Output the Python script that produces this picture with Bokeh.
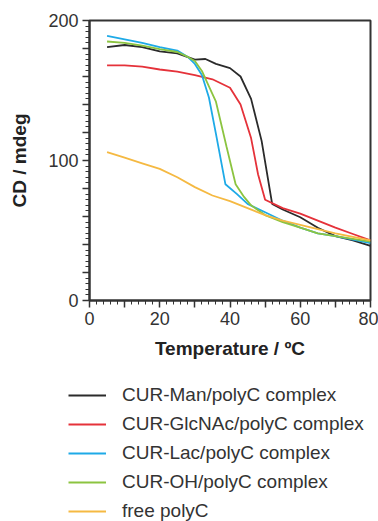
from bokeh.plotting import figure
from bokeh.models import FixedTicker, Legend, LegendItem, Range1d
from bokeh.layouts import column
from bokeh.embed import file_html
from bokeh.resources import INLINE

# ---- data ----
man_x = [5, 10, 15, 20, 25, 30, 33, 36, 40, 43, 46, 49, 52, 55, 60, 65, 70, 75, 80]
man_y = [181, 182.5, 181, 178, 176.5, 172, 172.5, 169, 166, 160, 144, 114, 69, 65, 59.5, 52, 46, 43, 39]

glc_x = [5, 10, 15, 20, 25, 30, 35, 40, 43, 46, 48, 50, 55, 60, 65, 70, 75, 80]
glc_y = [168, 168, 167, 165, 163.5, 161, 158, 152, 140, 116, 90, 72, 66, 62, 57, 52, 47.5, 43]

lac_x = [5, 10, 15, 20, 25, 28, 30, 32, 34, 36, 38.7, 42, 45, 50, 55, 60, 65, 70, 75, 80]
lac_y = [189, 186.5, 184, 181, 178.5, 174, 169, 161, 145, 119, 83, 76, 69, 63, 57, 52, 48, 46, 43.5, 41]

oh_x = [5, 10, 15, 20, 25, 28, 30, 32, 34, 36, 39, 41.6, 44, 46, 50, 55, 60, 65, 70, 75, 80]
oh_y = [185, 184, 182, 179.5, 177.5, 174, 171, 164, 153, 142, 110, 83, 74, 68, 61, 56, 52, 48, 46, 44, 42]

free_x = [5, 10, 15, 20, 25, 30, 35, 40, 45, 50, 55, 60, 65, 70, 75, 80]
free_y = [106, 102, 98, 94, 88, 81, 75, 71, 66, 61, 57, 54, 51, 48, 45.5, 43]

series_names = ["CUR-Man/polyC complex", "CUR-GlcNAc/polyC complex",
                "CUR-Lac/polyC complex", "CUR-OH/polyC complex", "free polyC"]
series_colors = ["#2b2b2b", "#e5323a", "#1eaae7", "#8cc440", "#f5b942"]

x_ticks = [0, 10, 20, 30, 40, 50, 60, 70, 80]
x_tick_labels = {0: "0", 10: "", 20: "20", 30: "", 40: "40", 50: "", 60: "60", 70: "", 80: "80"}
y_ticks = [0, 20, 40, 60, 80, 100, 120, 140, 160, 180, 200]
y_tick_labels = {0: "0", 20: "", 40: "", 60: "", 80: "", 100: "100",
                 120: "", 140: "", 160: "", 180: "", 200: "200"}

FONT = "Liberation Sans"
AX = "#333333"
TOP_H = 365

p = figure(width=378, height=TOP_H, output_backend="svg", toolbar_location=None,
           x_range=Range1d(0, 80), y_range=Range1d(0, 200),
           min_border_left=89, min_border_right=8, min_border_top=20,
           min_border_bottom=TOP_H - 300)
p.frame_align = False
p.grid.visible = False
p.outline_line_color = AX
p.outline_line_width = 2

all_x = [man_x, glc_x, lac_x, oh_x, free_x]
all_y = [man_y, glc_y, lac_y, oh_y, free_y]
for xs, ys, c in zip(all_x, all_y, series_colors):
    p.line(xs, ys, line_color=c, line_width=1.8)

p.xaxis.ticker = FixedTicker(ticks=x_ticks, minor_ticks=list(range(0, 81, 2)))
p.xaxis.major_label_overrides = x_tick_labels
p.yaxis.ticker = FixedTicker(ticks=y_ticks, minor_ticks=list(range(0, 201, 4)))
p.yaxis.major_label_overrides = y_tick_labels

for ax in (p.xaxis, p.yaxis):
    ax.axis_line_color = AX
    ax.axis_line_width = 2
    ax.major_tick_line_color = AX
    ax.minor_tick_line_color = AX
    ax.major_tick_line_width = 1.5
    ax.minor_tick_line_width = 1
    ax.major_tick_in = 0
    ax.major_tick_out = 7
    ax.minor_tick_in = 0
    ax.minor_tick_out = 4
    ax.major_label_text_font = FONT
    ax.major_label_text_font_size = "18px"
    ax.major_label_text_color = "#333333"
    ax.major_label_standoff = 4
    ax.axis_label_text_font = FONT
    ax.axis_label_text_font_size = "19px"
    ax.axis_label_text_font_style = "bold"
    ax.axis_label_text_color = "#222222"

p.xaxis.axis_label = "Temperature / ºC"
p.yaxis.axis_label = "CD / mdeg"
p.xaxis.axis_label_standoff = 10
p.yaxis.axis_label_standoff = 15

# ---- legend panel (separate figure below the chart) ----
LEG_H = 521 - TOP_H
q = figure(width=378, height=LEG_H, output_backend="svg", toolbar_location=None,
           x_range=Range1d(1000, 1001), y_range=Range1d(1000, 1001),
           x_axis_location=None, y_axis_location=None,
           min_border_left=0, min_border_right=0, min_border_top=0,
           min_border_bottom=0)
q.frame_align = False
q.grid.visible = False
q.outline_line_color = None
leg_renderers = []
for xs, ys, c in zip(all_x, all_y, series_colors):
    leg_renderers.append(q.line(xs, ys, line_color=c, line_width=2))

items = [LegendItem(label=n, renderers=[r]) for n, r in zip(series_names, leg_renderers)]
legend = Legend(items=items, location=(68, -1), orientation="vertical",
                glyph_width=38, glyph_height=22, label_height=22,
                label_standoff=16, spacing=7, padding=0, margin=0,
                border_line_color=None, background_fill_alpha=0,
                label_text_font=FONT, label_text_font_size="19px",
                label_text_color="#333333")
q.add_layout(legend, "center")

open("out.html", "w").write(file_html(column(p, q), INLINE))
